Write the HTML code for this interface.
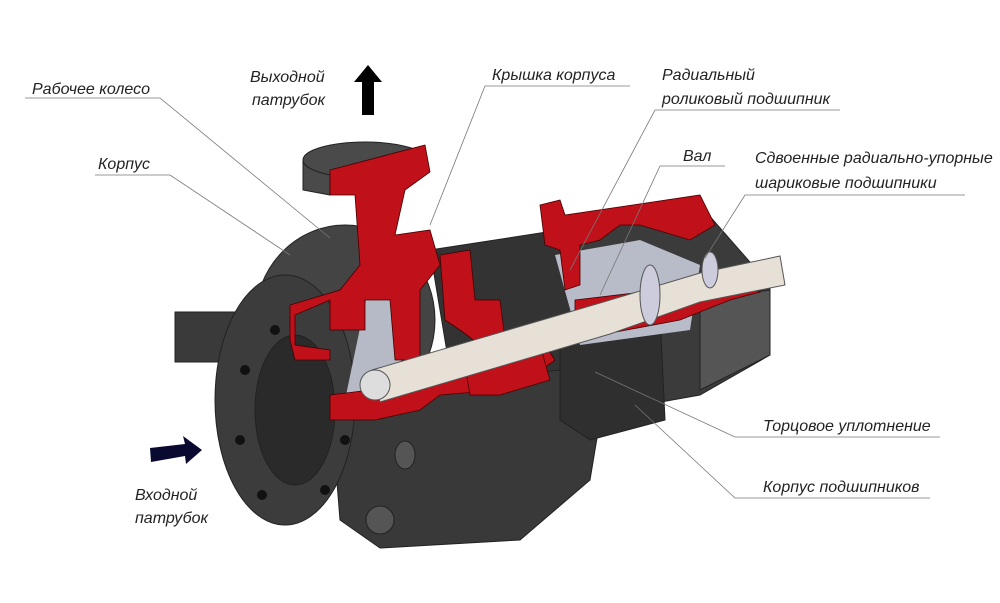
<!DOCTYPE html>
<html><head><meta charset="utf-8"><style>
body{margin:0;background:#fff;}
svg{display:block}
text{font-family:"Liberation Sans",sans-serif;font-style:italic;font-size:16px;fill:#222;}
</style></head><body>
<svg width="1000" height="603" viewBox="0 0 1000 603">
<rect width="1000" height="603" fill="#fff"/>
<g stroke="#222" stroke-width="1">
<rect x="175" y="312" width="65" height="50" fill="#3a3a3a"/>
<path d="M560 235 L700 205 L770 285 L770 355 L700 395 L560 420 Z" fill="#3b3b3b"/>
<path d="M700 300 L770 290 L770 355 L700 390 Z" fill="#555"/>
<path d="M430 250 L560 230 L600 420 L460 430 Z" fill="#333"/>
<ellipse cx="345" cy="320" rx="90" ry="95" fill="#444"/>
<path d="M330 395 L560 370 L600 420 L590 480 L520 540 L380 548 L340 520 Z" fill="#393939"/>
<path d="M560 330 L660 315 L665 420 L590 440 L560 420 Z" fill="#2f2f2f"/>
<ellipse cx="285" cy="400" rx="70" ry="125" fill="#3c3c3c"/>
<ellipse cx="295" cy="410" rx="40" ry="75" fill="#2a2a2a"/>
<path d="M303 160 L330 150 L330 195 L303 190 Z" fill="#4a4a4a"/>
<ellipse cx="365" cy="160" rx="62" ry="18" fill="#4a4a4a"/>
<ellipse cx="380" cy="520" rx="14" ry="14" fill="#555"/>
<ellipse cx="405" cy="455" rx="10" ry="14" fill="#555"/>
</g>
<g fill="#111">
<circle cx="245" cy="370" r="5"/><circle cx="240" cy="440" r="5"/><circle cx="262" cy="495" r="5"/>
<circle cx="325" cy="490" r="5"/><circle cx="345" cy="440" r="5"/><circle cx="275" cy="330" r="5"/>
</g>
<path d="M555 255 L640 240 L700 265 L690 330 L580 345 Z" fill="#b8bcc8"/>
<path d="M370 280 L405 270 L400 390 L345 400 Z" fill="#b6bac6"/>
<g fill="#c0101a" stroke="#400" stroke-width="0.8">
<path d="M330 170 L425 145 L430 172 L405 190 L395 235 L430 230 L440 265 L420 290 L420 360 L395 360 L390 300 L365 300 L365 330 L330 330 L330 300 L295 315 L295 345 L330 350 L330 360 L295 360 L290 340 L290 305 L340 290 L360 265 L355 195 L330 195 Z"/>
<path d="M440 255 L470 250 L475 300 L500 300 L505 340 L480 345 L460 330 L445 320 Z"/>
<path d="M540 205 L560 200 L565 215 L700 195 L715 225 L690 240 L640 225 L620 225 L600 240 L580 245 L580 285 L565 290 L560 250 L545 245 Z"/>
<path d="M330 395 L410 385 L470 370 L545 345 L555 360 L535 375 L500 390 L440 395 L420 410 L375 420 L330 420 Z"/>
<path d="M465 365 L540 345 L550 380 L500 395 L470 395 Z"/>
<path d="M575 300 L660 290 L700 280 L745 283 L760 292 L730 300 L680 320 L600 335 L575 335 Z"/>
</g>
<g stroke="#555" stroke-width="1">
<path d="M372 370 L600 303 L700 273 L780 256 L785 285 L700 302 L610 334 L380 402 Z" fill="#e6e0d6"/>
<ellipse cx="375" cy="385" rx="15" ry="15" fill="#ddd"/>
<ellipse cx="650" cy="295" rx="10" ry="30" fill="#ccd"/>
<ellipse cx="710" cy="270" rx="8" ry="18" fill="#ccd"/>
</g>
<g stroke="#777" stroke-width="0.8" fill="none">
<polyline points="25,98 160,98 330,238"/>
<polyline points="95,175 170,175 290,255"/>
<polyline points="630,86 485,86 430,225"/>
<polyline points="840,110 655,110 570,270"/>
<polyline points="725,166 660,166 600,295"/>
<polyline points="965,195 745,195 705,258"/>
<polyline points="940,437 735,437 595,372"/>
<polyline points="930,498 735,498 635,405"/>
</g>
<polygon points="368,65 382,82 374,82 374,115 362,115 362,82 354,82" fill="#000"/>
<polygon points="150,448 185,444 183,436 202,450 186,464 185,456 151,462" fill="#0a0a30"/>
<text x="32" y="94">Рабочее колесо</text>
<text x="98" y="169">Корпус</text>
<text x="250" y="82">Выходной</text>
<text x="252" y="105">патрубок</text>
<text x="492" y="80">Крышка корпуса</text>
<text x="662" y="80">Радиальный</text>
<text x="662" y="104">роликовый подшипник</text>
<text x="683" y="161">Вал</text>
<text x="755" y="163">Сдвоенные радиально-упорные</text>
<text x="755" y="188">шариковые подшипники</text>
<text x="763" y="431">Торцовое уплотнение</text>
<text x="763" y="492">Корпус подшипников</text>
<text x="135" y="500">Входной</text>
<text x="135" y="523">патрубок</text>
</svg>
</body></html>
